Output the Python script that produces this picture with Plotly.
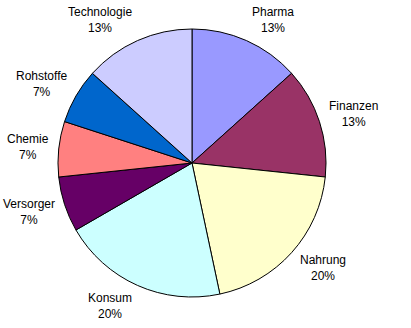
import math
import plotly.graph_objects as go

categories = ["Pharma", "Finanzen", "Nahrung", "Konsum", "Versorger", "Chemie", "Rohstoffe", "Technologie"]
values = [2, 2, 3, 3, 1, 1, 1, 2]
colors = ["#9999FF", "#993366", "#FFFFCC", "#CCFFFF", "#660066", "#FF8080", "#0066CC", "#CCCCFF"]

W, H = 411, 328
CX, CY, R = 192, 163, 134
GAP = 8
LINE_H = 30

fig = go.Figure(go.Pie(
    labels=categories,
    values=values,
    sort=False,
    direction="clockwise",
    rotation=0,
    marker=dict(colors=colors, line=dict(color="#000000", width=1)),
    textinfo="none",
    hoverinfo="label+percent",
    showlegend=False,
    domain=dict(x=[(CX - R) / W, (CX + R) / W], y=[1 - (CY + R) / H, 1 - (CY - R) / H]),
))

total = sum(values)
cum = 0
annotations = []
for cat, v in zip(categories, values):
    mid = (cum + v / 2) / total * 2 * math.pi
    cum += v
    ux, uy = math.sin(mid), -math.cos(mid)
    px = CX + (R + GAP) * ux
    py = CY + (R + GAP) * uy + LINE_H / 2 * uy
    if ux > 0.05:
        xa = "left"
    elif ux < -0.05:
        xa = "right"
    else:
        xa = "center"
    pct = round(v / total * 100)
    annotations.append(dict(
        x=px / W, y=1 - py / H, xref="paper", yref="paper",
        text=f"{cat}<br>{pct}%", showarrow=False,
        xanchor=xa, yanchor="middle", align="center",
        font=dict(family="Arial, Liberation Sans, sans-serif", size=12, color="#000000"),
    ))

fig.update_layout(
    width=W, height=H,
    margin=dict(l=0, r=0, t=0, b=0),
    paper_bgcolor="#FFFFFF",
    plot_bgcolor="#FFFFFF",
    annotations=annotations,
)

fig.write_html("out.html")
